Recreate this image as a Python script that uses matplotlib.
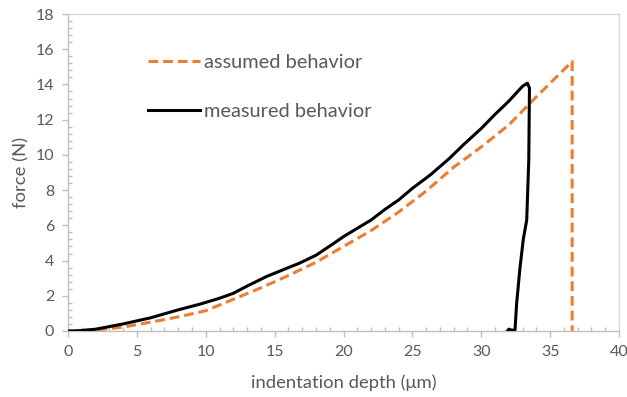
import matplotlib
matplotlib.use("Agg")
import matplotlib.pyplot as plt
from matplotlib.ticker import MultipleLocator

plt.rcParams['font.family'] = ['Lato', 'DejaVu Sans']

# measured behavior (loading + unloading)
measured_x = [0, 0.5, 2, 4, 6, 8, 9.6, 11, 12, 13, 14.4, 16, 16.8, 18, 19.3, 20, 21,
              22, 23, 24, 25, 26.3, 27.7, 28.7, 30, 31, 32, 33, 33.35, 33.5, 33.45,
              33.3, 33.05, 32.8, 32.57, 32.45, 32.2, 32.0, 31.9]
measured_y = [0, 0.0, 0.1, 0.4, 0.75, 1.2, 1.53, 1.86, 2.14, 2.55, 3.09, 3.6, 3.85,
              4.3, 4.98, 5.36, 5.83, 6.3, 6.9, 7.44, 8.1, 8.86, 9.81, 10.57, 11.5,
              12.3, 13.05, 13.9, 14.07, 13.8, 9.7, 6.3, 5.2, 3.5, 1.57, 0.05, 0.05,
              0.1, 0.0]

# assumed behavior
assumed_x = [0, 2, 4, 6, 8, 10, 12, 14, 16, 18, 20, 22, 24, 26, 28, 30, 32, 34,
             36.6, 36.6]
assumed_y = [0, 0.05, 0.22, 0.5, 0.8, 1.15, 1.8, 2.45, 3.15, 3.9, 4.8, 5.7, 6.75,
             7.95, 9.3, 10.45, 11.7, 13.3, 15.3, 0]

x_ticks = [0, 5, 10, 15, 20, 25, 30, 35, 40]
y_ticks = [0, 2, 4, 6, 8, 10, 12, 14, 16, 18]

orange = '#ED7D31'
text_gray = '#595959'

fig = plt.figure(figsize=(6.27, 3.97), dpi=100)
ax = fig.add_axes([68/627, 1-331/397, (619-68)/627, (331-14)/397])

ax.plot(assumed_x, assumed_y, color=orange, lw=2.2, dashes=(3.2, 1.6),
        label='assumed behavior', zorder=2)
ax.plot(measured_x, measured_y, color='black', lw=2.2, label='measured behavior',
        solid_joinstyle='round', zorder=3)

ax.set_xlim(0, 40)
ax.set_ylim(0, 18)
ax.set_xticks(x_ticks)
ax.set_yticks(y_ticks)
ax.xaxis.set_minor_locator(MultipleLocator(1))
ax.yaxis.set_minor_locator(MultipleLocator(0.4))

for s in ['left', 'bottom']:
    ax.spines[s].set_color('#BFBFBF')
    ax.spines[s].set_linewidth(1.0)
for s in ['top', 'right']:
    ax.spines[s].set_color('#D9D9D9')
    ax.spines[s].set_linewidth(1.0)

ax.tick_params(which='major', direction='out', length=4, width=1, color='#BFBFBF',
               labelsize=11.5, labelcolor=text_gray, pad=6)
ax.tick_params(which='minor', direction='in', length=3, width=1, color='#BFBFBF')
ax.tick_params(axis='x', which='both', top=False)
ax.tick_params(axis='y', which='both', right=False)

ax.set_xlabel('indentation depth (μm)', fontsize=13.3, color=text_gray, labelpad=11)
ax.set_ylabel('force (N)', fontsize=13.3, color=text_gray, labelpad=4)

leg = ax.legend(loc='upper left', bbox_to_anchor=((148-68)/551, (331-54)/317),
                frameon=False, fontsize=14.4, handlelength=2.6, handletextpad=0.2,
                labelspacing=1.6, borderaxespad=0, borderpad=0)
for t in leg.get_texts():
    t.set_color(text_gray)

fig.savefig('out.png', dpi=100)
